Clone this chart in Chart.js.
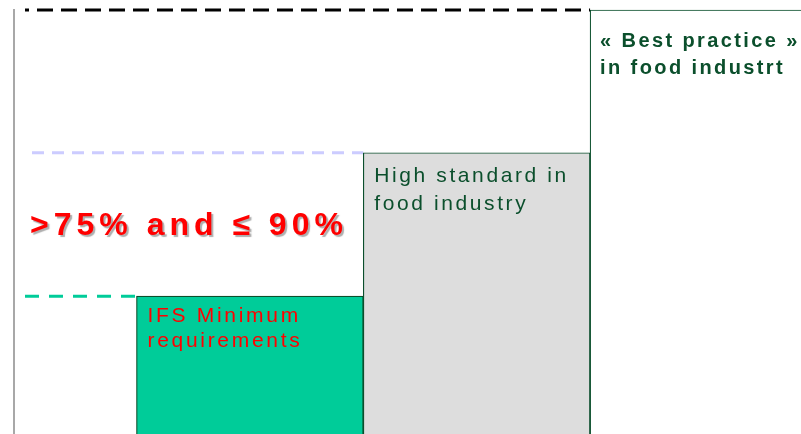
<!DOCTYPE html>
<html>
<head>
<meta charset="utf-8">
<script src="https://cdn.jsdelivr.net/npm/chart.js@4.4.0/dist/chart.umd.min.js"></script>
<style>
html, body { margin: 0; padding: 0; background: #fff; }
#wrap { width: 801px; height: 434px; position: relative; }
</style>
</head>
<body>
<div id="wrap"><canvas id="chart"></canvas></div>
<script>
// the three steps: position on x, level reached (bottom of picture = 0, top step = 3)
const stepPositions = [1, 2, 3];
const stepHeights = [0.975, 1.99, 3];
const stepLabels = [
    ["IFS Minimum", "requirements"],
    ["High standard in", "food industry"],
    ["« Best practice »", "in food industrt"]
];
const bandLabel = ">75% and \u2264 90%";

const stepColors = ["#00cc99", "#dddddd", "#ffffff"];
const darkGreen = "#0b4f2c";

// dashed guide for each step, from the axis to the left edge of the step
const guideStyles = [
    {color: "#00cc99", dash: [14, 10], offset: 0, start: 11},
    {color: "#ccccff", dash: [12, 8], offset: 0, start: 18},
    {color: "#000000", dash: [16, 8], offset: 12, start: 11}
];
const textStyles = [
    {font: '21px "Liberation Sans"', color: "#ff0000", spacing: 2.7, dx: 11, dy: 26, lh: 25},
    {font: '21px "Liberation Sans"', color: darkGreen, spacing: 2.6, dx: 11, dy: 29, lh: 28},
    {font: 'bold 20px "Liberation Sans"', color: darkGreen, spacing: 2.4, dx: 10, dy: 37, lh: 27}
];

const stepText = {
    id: "stepText",
    beforeDatasetsDraw(chart) {
        const {ctx, chartArea} = chart;
        const x = chart.scales.x, y = chart.scales.y;
        ctx.save();
        stepHeights.forEach((h, i) => {
            const g = guideStyles[i];
            const py = y.getPixelForValue(h);
            const px = x.getPixelForValue(stepPositions[i] - 0.5);
            ctx.beginPath();
            ctx.setLineDash(g.dash);
            ctx.lineDashOffset = g.offset;
            ctx.strokeStyle = g.color;
            ctx.lineWidth = 3;
            ctx.moveTo(chartArea.left + g.start, py);
            ctx.lineTo(px, py);
            ctx.stroke();
        });
        ctx.restore();
    },
    afterDatasetsDraw(chart) {
        const {ctx, chartArea} = chart;
        const x = chart.scales.x, y = chart.scales.y;
        ctx.save();
        ctx.textBaseline = "alphabetic";
        ctx.textAlign = "left";
        stepLabels.forEach((lines, i) => {
            const s = textStyles[i];
            const left = x.getPixelForValue(stepPositions[i] - 0.5);
            const top = y.getPixelForValue(stepHeights[i]);
            ctx.font = s.font;
            ctx.fillStyle = s.color;
            ctx.letterSpacing = s.spacing + "px";
            lines.forEach((t, k) => ctx.fillText(t, left + s.dx, top + s.dy + k * s.lh));
        });

        // band label between the first two levels
        const mid = (y.getPixelForValue(stepHeights[0]) + y.getPixelForValue(stepHeights[1])) / 2;
        ctx.font = 'bold 32px "Liberation Sans"';
        ctx.letterSpacing = "5px";
        ctx.fillStyle = "#ff0000";
        ctx.shadowColor = "rgba(120,120,120,0.6)";
        ctx.shadowOffsetX = 2;
        ctx.shadowOffsetY = 2;
        ctx.shadowBlur = 1;
        ctx.fillText(bandLabel, chartArea.left + 16, mid + 11);
        ctx.restore();
    }
};

new Chart(document.getElementById("chart"), {
    type: "bar",
    data: {
        datasets: [{
            data: stepPositions.map((p, i) => ({x: p, y: stepHeights[i]})),
            backgroundColor: stepColors,
            borderColor: darkGreen,
            borderWidth: 1.2,
            barPercentage: 1,
            categoryPercentage: 1,
            clip: false
        }]
    },
    options: {
        responsive: true,
        maintainAspectRatio: false,
        animation: false,
        layout: {padding: {left: 14, top: 10, right: 0, bottom: 0}},
        plugins: {legend: {display: false}, tooltip: {enabled: false}},
        scales: {
            x: {
                type: "linear",
                display: false,
                offset: false,
                min: -0.04,
                max: 3.43,
                afterBuildTicks: (s) => { s.ticks = stepPositions.map(v => ({value: v})); }
            },
            y: {
                min: 0,
                max: 3,
                grid: {display: false, drawTicks: false},
                ticks: {display: false},
                border: {display: true, color: "#a8a8a8", width: 2}
            }
        }
    },
    plugins: [stepText]
});
</script>
</body>
</html>
